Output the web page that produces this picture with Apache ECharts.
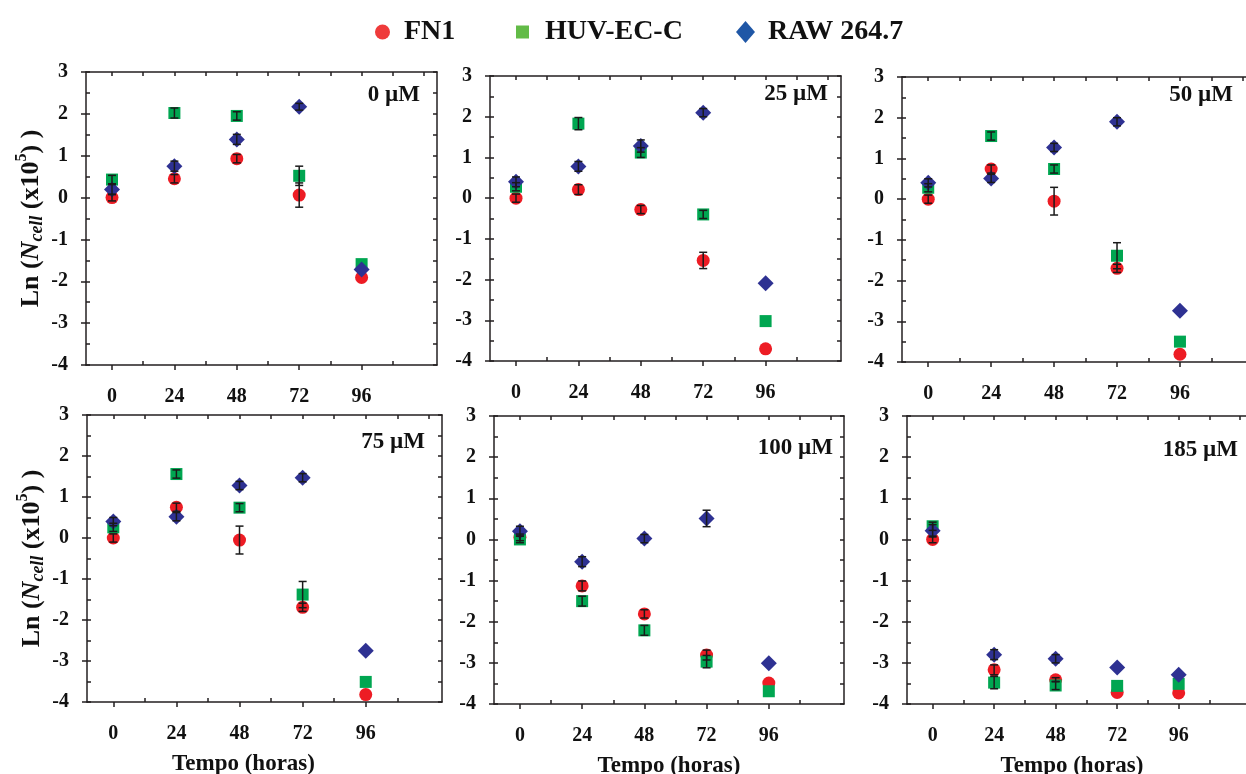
<!DOCTYPE html>
<html>
<head>
<meta charset="utf-8">
<script src="https://cdn.jsdelivr.net/npm/echarts@6/dist/echarts.min.js"></script>
<style>
  html, body { margin: 0; padding: 0; background: #fff; }
  #chart { width: 1246px; height: 774px; }
</style>
</head>
<body>
<div id="chart"></div>
<script>
const hours = [0, 24, 48, 72, 96];
const hourTicks = [0, 24, 48, 72, 96];
const panelNames = ['0 µM', '25 µM', '50 µM', '75 µM', '100 µM', '185 µM'];
const cellLines = ['FN1', 'HUV-EC-C', 'RAW 264.7'];

// Ln(Ncell) - uma linha por concentração
const fn1Ln = [
  [0, 0.45, 0.93, 0.06, -1.91],
  [0, 0.21, -0.28, -1.53, -3.70],
  [0, 0.74, -0.05, -1.70, -3.81],
  [0, 0.75, -0.05, -1.69, -3.82],
  [0.05, -1.13, -1.81, -2.81, -3.49],
  [0, -3.17, -3.41, -3.72, -3.73]
];
const huvLn = [
  [0.43, 2.02, 1.95, 0.52, -1.59],
  [0.28, 1.83, 1.12, -0.40, -3.02],
  [0.28, 1.55, 0.74, -1.39, -3.50],
  [0.26, 1.56, 0.74, -1.38, -3.51],
  [0, -1.50, -2.21, -2.97, -3.69],
  [0.32, -3.48, -3.55, -3.56, -3.51]
];
const rawLn = [
  [0.19, 0.75, 1.39, 2.17, -1.72],
  [0.40, 0.78, 1.28, 2.10, -2.09],
  [0.40, 0.51, 1.27, 1.90, -2.74],
  [0.40, 0.52, 1.28, 1.47, -2.75],
  [0.20, -0.54, 0.02, 0.51, -3.01],
  [0.21, -2.80, -2.90, -3.11, -3.29]
];

// barras de erro
const fn1Sd = [
  [0.08, 0.1, 0.1, 0.29, 0],
  [0.1, 0.12, 0.1, 0.2, 0],
  [0.1, 0.1, 0.34, 0.1, 0],
  [0.1, 0.1, 0.34, 0.1, 0],
  [0.08, 0.12, 0.1, 0.12, 0],
  [0.08, 0.12, 0.05, 0, 0]
];
const huvSd = [
  [0.1, 0.12, 0.1, 0.23, 0],
  [0.1, 0.15, 0.12, 0.1, 0],
  [0.1, 0.1, 0.1, 0.32, 0],
  [0.1, 0.1, 0.1, 0.32, 0],
  [0.08, 0.12, 0.12, 0.15, 0],
  [0.1, 0.15, 0.1, 0, 0]
];
const rawSd = [
  [0.12, 0.12, 0.12, 0.08, 0],
  [0.12, 0.12, 0.15, 0.1, 0],
  [0.1, 0.1, 0.1, 0.1, 0],
  [0.1, 0.1, 0.1, 0.1, 0],
  [0.12, 0.12, 0.1, 0.2, 0],
  [0.15, 0.12, 0.1, 0, 0]
];

const grids = [
  { left: 86, top: 72, width: 351, height: 293 },
  { left: 490, top: 76, width: 351, height: 285 },
  { left: 902, top: 77, width: 354, height: 285 },
  { left: 87, top: 415, width: 355, height: 287 },
  { left: 494, top: 416, width: 350, height: 288 },
  { left: 907, top: 416, width: 346, height: 288 }
].map(g => Object.assign({ outerBoundsMode: 'none', containLabel: false }, g));
const labelPos = [[420, 95], [828, 94], [1233, 95], [425, 442], [833, 448], [1238, 450]];
const titleShift = [0, 0, 0, 42, 0, 16];

const serif = 'Liberation Serif';
const axisColor = '#231f20';
const colors = ['#ed1c24', '#00a651', '#2e3192'];
const legendColors = ['#ef3b3b', '#62bb47', '#1f57a6'];

const chart = echarts.init(document.getElementById('chart'));

function renderErr(params, api) {
  const x = api.value(0), y = api.value(1), e = api.value(2);
  if (!e) return null;
  const top = api.coord([x, y + e]);
  const bot = api.coord([x, y - e]);
  const w = 4;
  const st = { stroke: '#1a1a1a', lineWidth: 1.5 };
  return {
    type: 'group',
    children: [
      { type: 'line', shape: { x1: top[0], y1: top[1], x2: bot[0], y2: bot[1] }, style: st },
      { type: 'line', shape: { x1: top[0] - w, y1: top[1], x2: top[0] + w, y2: top[1] }, style: st },
      { type: 'line', shape: { x1: bot[0] - w, y1: bot[1], x2: bot[0] + w, y2: bot[1] }, style: st }
    ]
  };
}

const xAxes = [], yAxes = [], series = [], graphics = [];
const lineStyle = { color: axisColor, width: 1.5 };
const tickFont = { fontFamily: serif, fontWeight: 'bold', fontSize: 20, color: '#111' };

grids.forEach((g, p) => {
  const bottomRow = p >= 3;
  xAxes.push({
    gridIndex: p, type: 'value', min: -10, max: 125, position: 'bottom',
    axisLine: { show: true, onZero: false, lineStyle },
    axisTick: { show: true, length: 5, customValues: hourTicks, lineStyle },
    axisLabel: Object.assign({ customValues: hourTicks, margin: 22 }, tickFont),
    splitLine: { show: false },
    name: bottomRow ? 'Tempo (horas)' : '',
    nameLocation: 'middle', nameGap: 51,
    nameTextStyle: { fontFamily: serif, fontWeight: 'bold', fontSize: 23, color: '#111',
      padding: [0, titleShift[p], 0, 0] }
  });
  xAxes.push({
    gridIndex: p, type: 'value', min: -10, max: 125, position: 'bottom',
    axisLine: { show: false, onZero: false },
    axisTick: { show: true, inside: true, length: 4, customValues: [12, 36, 60, 84, 108], lineStyle },
    axisLabel: { show: false }, splitLine: { show: false }
  });
  xAxes.push({
    gridIndex: p, type: 'value', min: -10, max: 125, position: 'top',
    axisLine: { show: true, onZero: false, lineStyle },
    axisTick: { show: true, inside: true, length: 4, customValues: [0, 12, 24, 36, 48, 60, 72, 84, 96, 108, 120], lineStyle },
    axisLabel: { show: false }, splitLine: { show: false }
  });

  const yName = (p % 3 === 0)
    ? '{b|Ln (}{i|N}{s|cell}{b| (x10}{u|5}{b|) )}' : '';
  yAxes.push({
    gridIndex: p, type: 'value', min: -4, max: 3, interval: 1, position: 'left',
    axisLine: { show: true, onZero: false, lineStyle },
    axisTick: { show: true, length: 5, lineStyle },
    axisLabel: Object.assign({ margin: 18 }, tickFont),
    splitLine: { show: false },
    name: yName, nameLocation: 'middle', nameGap: 48, nameRotate: 90,
    nameTextStyle: {
      rich: {
        b: { fontFamily: serif, fontWeight: 'bold', fontSize: 26, lineHeight: 26, color: '#111', verticalAlign: 'top', padding: [6, 0, 0, 0] },
        i: { fontFamily: serif, fontWeight: 'bold', fontStyle: 'italic', fontSize: 26, lineHeight: 26, color: '#111', verticalAlign: 'top', padding: [6, 0, 0, 0] },
        s: { fontFamily: serif, fontWeight: 'bold', fontStyle: 'italic', fontSize: 18, lineHeight: 18, color: '#111', verticalAlign: 'top', padding: [16, 0, 0, 0] },
        u: { fontFamily: serif, fontWeight: 'bold', fontSize: 16, lineHeight: 16, color: '#111', verticalAlign: 'top', padding: [2, 0, 0, 0] }
      }
    }
  });
  yAxes.push({
    gridIndex: p, type: 'value', min: -4, max: 3, interval: 0.5, position: 'left',
    axisLine: { show: false, onZero: false },
    axisTick: { show: true, inside: true, length: 4, lineStyle },
    axisLabel: { show: false }, splitLine: { show: false }
  });
  yAxes.push({
    gridIndex: p, type: 'value', min: -4, max: 3, interval: 0.5, position: 'right',
    axisLine: { show: true, onZero: false, lineStyle },
    axisTick: { show: true, inside: true, length: 4, lineStyle },
    axisLabel: { show: false }, splitLine: { show: false }
  });

  const sets = [[fn1Ln, fn1Sd, 'circle', 13], [huvLn, huvSd, 'rect', 12], [rawLn, rawSd, 'diamond', 16]];
  const errData = [];
  sets.forEach((s, k) => {
    series.push({
      type: 'scatter', name: cellLines[k],
      xAxisIndex: p * 3, yAxisIndex: p * 3,
      symbol: s[2], symbolSize: s[3],
      itemStyle: { color: colors[k], opacity: 1 },
      data: hours.map((h, j) => [h, s[0][p][j]]),
      z: 2 + k
    });
    hours.forEach((h, j) => errData.push([h, s[0][p][j], s[1][p][j]]));
  });
  series.push({
    type: 'custom', name: 'erro',
    xAxisIndex: p * 3, yAxisIndex: p * 3,
    renderItem: renderErr, data: errData, z: 10,
    encode: { x: 0, y: 1 }
  });

  graphics.push({
    type: 'text', x: labelPos[p][0], y: labelPos[p][1],
    style: {
      text: panelNames[p], fill: '#111',
      font: 'bold 23px "Liberation Serif"',
      textAlign: 'right', textVerticalAlign: 'middle',
      align: 'right', verticalAlign: 'middle'
    }
  });
});

const legendIcons = ['circle', 'rect', 'diamond'];
const legendLeft = [370, 511, 731];
const legendSize = [[15, 17], [13, 13], [19, 22]];
const legendPad = [9, 11, 8];
const legends = cellLines.map((name, k) => ({
  left: legendLeft[k], top: 13,
  itemWidth: legendSize[k][0], itemHeight: legendSize[k][1],
  icon: legendIcons[k],
  selectedMode: false,
  data: [{ name: name, itemStyle: { color: legendColors[k] } }],
  textStyle: { fontFamily: serif, fontWeight: 'bold', fontSize: 28, color: '#111', padding: [0, 0, 0, legendPad[k]] }
}));

chart.setOption({
  animation: false,
  backgroundColor: '#fff',
  legend: legends,
  grid: grids,
  xAxis: xAxes,
  yAxis: yAxes,
  series: series,
  graphic: graphics
});
</script>
</body>
</html>
